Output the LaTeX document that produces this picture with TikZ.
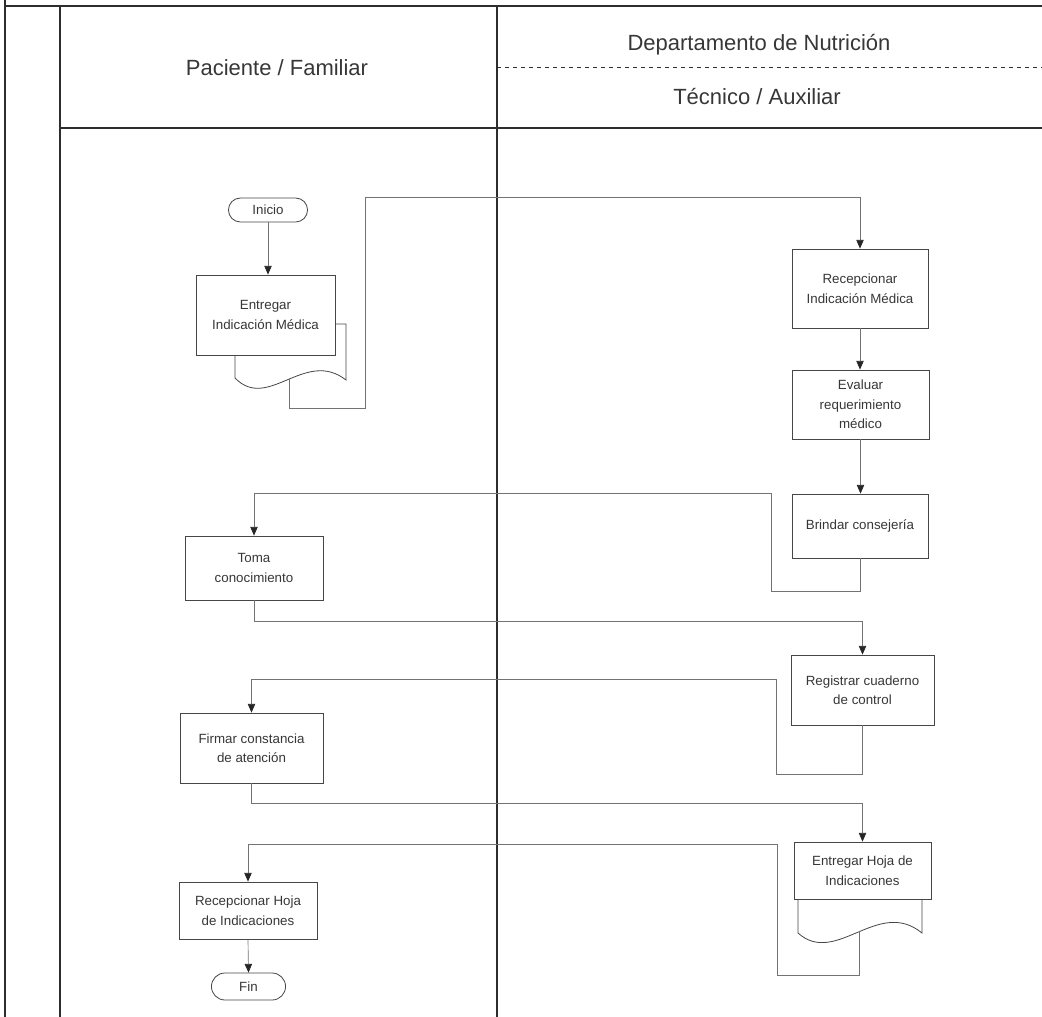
\documentclass[tikz,border=0pt]{standalone}
\usepackage{fontspec}
\setmainfont{Liberation Sans}
\usepackage{xcolor}
\usetikzlibrary{arrows.meta,shapes.misc}
\definecolor{laneline}{RGB}{45,45,45}
\definecolor{boxline}{RGB}{70,70,70}
\definecolor{connline}{RGB}{115,115,115}
\definecolor{txt}{RGB}{55,55,55}

\begin{document}
\begin{tikzpicture}[x=0.75pt,y=-0.75pt,
  lane/.style={draw=laneline,line width=0.8pt},
  head/.style={font=\fontsize{16.5}{20}\selectfont,text=txt},
  proc/.style={draw=boxline,fill=white,line width=0.6pt,align=center,
               minimum width=103pt,inner sep=2pt,text=txt,
               font=\fontsize{10}{14.6}\selectfont},
  term/.style={draw=boxline,fill=white,line width=0.6pt,rounded rectangle,
               text=txt,font=\fontsize{10}{14.6}\selectfont},
  docline/.style={draw=boxline,fill=white,line width=0.6pt},
  arr/.style={-{Triangle[length=6.5pt,width=5.5pt,color=black!85]},connline,line width=0.5pt}]
\useasboundingbox (0,0) rectangle (1042,1017);
\draw[lane] (5,0) -- (5,1017);
\draw[lane] (5,6) -- (1042,6);
\draw[lane] (60,6) -- (60,1017);
\draw[lane] (497,6) -- (497,1017);
\draw[lane] (60,128) -- (1042,128);
\draw[laneline,dashed,line width=0.5pt] (497,67) -- (1042,67);
\node[head] (pac) at (277,68) {Paciente / Familiar};
\node[head] (dep) at (759,45) {Departamento de Nutrición};
\node[head] (tec) at (757,97) {Técnico / Auxiliar};

\draw[docline] (235,350) -- (235,378) .. controls (268,412) and (305,348) .. (346,380)
  -- (346,324) -- (330,324);
\coordinate (entdoc) at (289,379);
\draw[docline] (798,890) -- (798,933) .. controls (836,967) and (878,897) .. (922,933)
  -- (922,890);
\coordinate (enhdoc) at (859,931);

\node[term,minimum width=66pt,minimum height=18pt] (ini) at (268,210) {Inicio};
\node[proc,minimum width=104.25pt,minimum height=60pt] (ent) at (265.5,315)
  {Entregar\\Indicación Médica};
\node[proc,minimum width=102pt,minimum height=59.25pt] (rec) at (860,288.5)
  {Recepcionar\\Indicación Médica};
\node[proc,minimum width=102.75pt,minimum height=51.75pt] (eva) at (860.5,404.5)
  {Evaluar\\requerimiento\\médico};
\node[proc,minimum width=102pt,minimum height=48pt] (bri) at (860,526)
  {Brindar consejería};
\node[proc,minimum width=103.5pt,minimum height=48pt] (tom) at (254,568)
  {Toma\\conocimiento};
\node[proc,minimum width=107.25pt,minimum height=52.5pt] (reg) at (862.5,690)
  {Registrar cuaderno\\de control};
\node[proc,minimum width=107.25pt,minimum height=52.5pt] (fir) at (251.5,748)
  {Firmar constancia\\de atención};
\node[proc,minimum width=102.75pt,minimum height=42.75pt] (enh) at (862.5,870.5)
  {Entregar Hoja de\\Indicaciones};
\node[proc,minimum width=103.5pt,minimum height=42.75pt] (reh) at (248,910.5)
  {Recepcionar Hoja\\de Indicaciones};
\node[term,minimum width=62.25pt,minimum height=20.25pt] (fin) at (248.5,986.5) {Fin};

\draw[arr] (ini.south) -- (ini.south |- ent.north);
\draw[arr] (entdoc) -- ++(0,29) -| ++(76,-211) -| (rec.north);
\draw[arr] (rec.south) -- (rec.south |- eva.north);
\draw[arr] (eva.south) -- (eva.south |- bri.north);
\draw[arr] (bri.south) -- ++(0,33) -| ++(-89,-98) -| (tom.north);
\draw[arr] (tom.south) -- ++(0,21) -| (reg.north);
\draw[arr] (reg.south) -- ++(0,49) -| ++(-86,-95) -| (fir.north);
\draw[arr] (fir.south) -- ++(0,20) -| (enh.north);
\draw[arr] (enhdoc) -- ++(0,44) -| ++(-82,-131) -| (reh.north);
\draw[arr] (reh.south) -- (fin.north);
\end{tikzpicture}
\end{document}
